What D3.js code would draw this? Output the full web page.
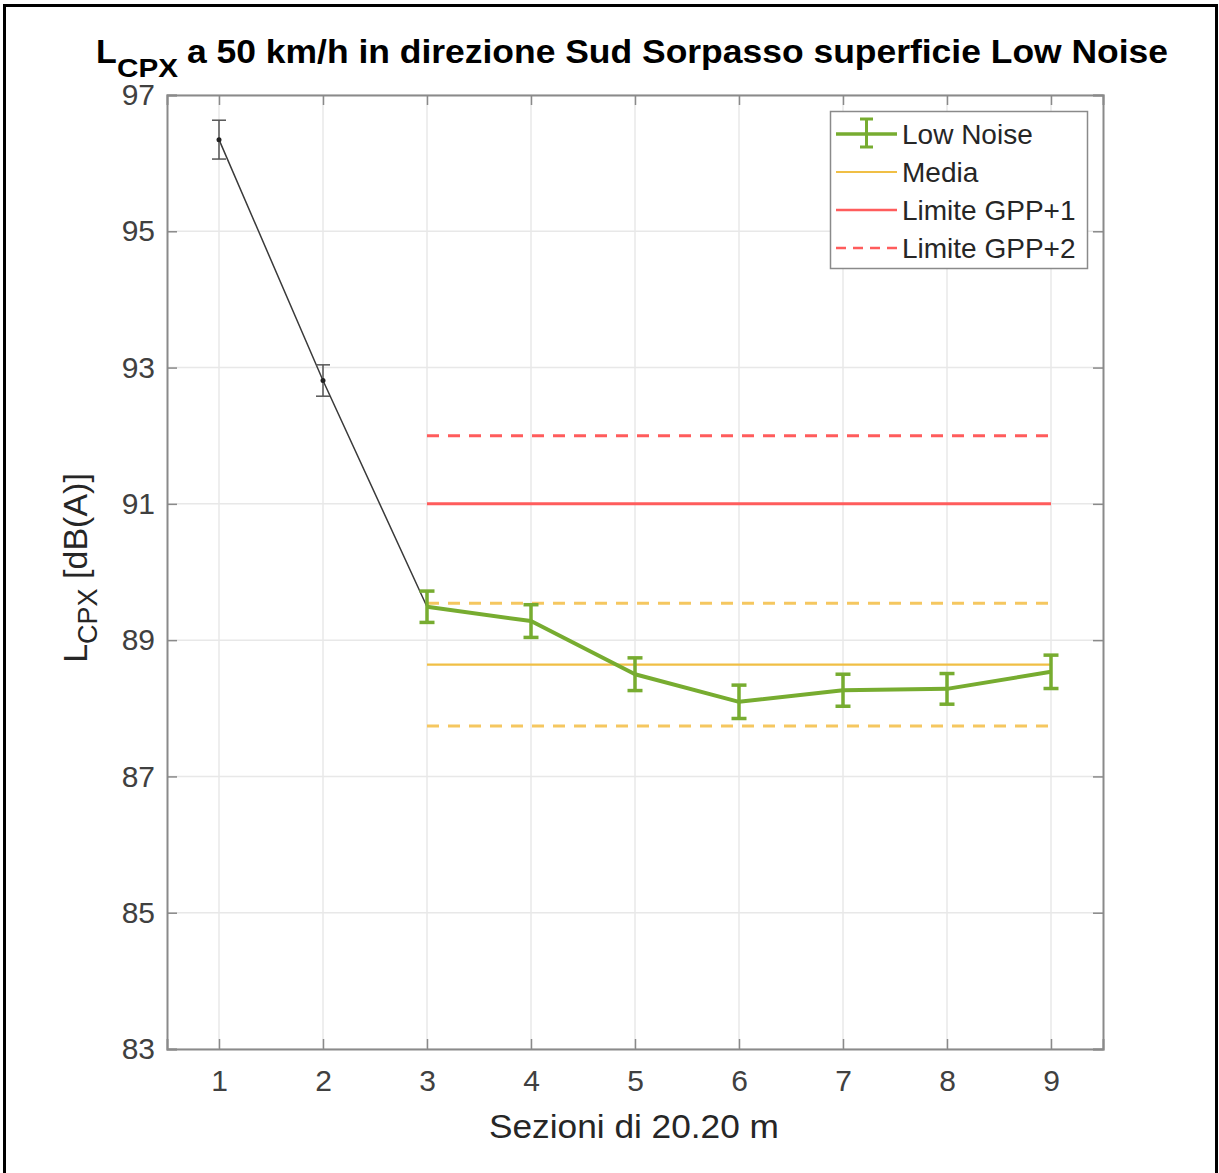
<!DOCTYPE html>
<html><head><meta charset="utf-8">
<script src="https://cdn.jsdelivr.net/npm/d3@7"></script>
<style>body{margin:0;background:#fff;}svg{display:block;font-family:"Liberation Sans",Arial,sans-serif;}</style>
</head><body>
<svg id="c" width="1219" height="1173"></svg>
<script>
// Data
const xTicks = [1,2,3,4,5,6,7,8,9];
const yTicks = [83,85,87,89,91,93,95,97];
const startSections = [1,2,3];
const startValues = [96.345, 92.81, 89.49];
const startErr = [0.285, 0.23, 0.23];
const lnSections = [3,4,5,6,7,8,9];
const lnValues = [89.49, 89.28, 88.50, 88.095, 88.265, 88.285, 88.535];
const lnErr = [0.23, 0.24, 0.24, 0.245, 0.235, 0.225, 0.245];
const mediaValue = 88.64;
const mediaBand = 0.9;
const limit1 = 91;
const limit2 = 92;
const refRange = [3, 9];
const legendLabels = ["Low Noise","Media","Limite GPP+1","Limite GPP+2"];

const svg = d3.select("#c");
// outer frame
svg.append("rect").attr("x",4.5).attr("y",5.5).attr("width",1212).attr("height",1180)
  .attr("fill","none").attr("stroke","#000").attr("stroke-width",3);

const L=167, R=1103, T=95, B=1049;
const x = d3.scaleLinear().domain([0.5,9.5]).range([L,R]);
const y = d3.scaleLinear().domain([83,97]).range([B,T]);

const green="#77ac30", yellow="#f0bf45", yellowD="#f5c760", red="#ff5c5c";

const g = svg.append("g");
// grid
g.selectAll(".gx").data(xTicks).join("line").attr("x1",d=>x(d)).attr("x2",d=>x(d)).attr("y1",T).attr("y2",B)
  .attr("stroke","#e8e8e8").attr("stroke-width",1.5);
g.selectAll(".gy").data(yTicks).join("line").attr("y1",d=>y(d)).attr("y2",d=>y(d)).attr("x1",L).attr("x2",R)
  .attr("stroke","#e8e8e8").attr("stroke-width",1.5);

// axes
const ax = svg.append("g").attr("transform",`translate(0,${B})`)
  .call(d3.axisBottom(x).tickValues(xTicks).tickSize(-10).tickPadding(21).tickFormat(d3.format("d")));
const ay = svg.append("g").attr("transform",`translate(${L},0)`)
  .call(d3.axisLeft(y).tickValues(yTicks).tickSize(-10).tickPadding(12).tickFormat(d3.format("d")));
const axT = svg.append("g").attr("transform",`translate(0,${T})`)
  .call(d3.axisTop(x).tickValues(xTicks).tickSize(-10).tickFormat(""));
const ayR = svg.append("g").attr("transform",`translate(${R},0)`)
  .call(d3.axisRight(y).tickValues(yTicks).tickSize(-10).tickFormat(""));
[ax,ay,axT,ayR].forEach(a=>{
  a.select(".domain").attr("stroke","#8a8a8a").attr("stroke-width",2);
  a.selectAll(".tick line").attr("stroke","#8a8a8a").attr("stroke-width",1.5);
  a.selectAll(".tick text").attr("fill","#404040").attr("font-size",30).attr("font-family","Liberation Sans, Arial, sans-serif");
});

// reference lines
const pr = g.append("g");
function hline(v,color,w,dash){
  pr.append("line").attr("x1",x(refRange[0])).attr("x2",x(refRange[1])).attr("y1",y(v)).attr("y2",y(v))
    .attr("stroke",color).attr("stroke-width",w).attr("stroke-dasharray",dash||null);
}
hline(limit2, red, 3, "12,9");
hline(limit1, red, 3);
hline(mediaValue+mediaBand, yellowD, 3, "12,9");
hline(mediaValue-mediaBand, yellowD, 3, "12,9");
hline(mediaValue, yellow, 2.2);

// start series (black)
const line = d3.line().x(d=>x(d[0])).y(d=>y(d[1]));
const startPts = startSections.map((s,i)=>[s,startValues[i],startErr[i]]);
g.append("path").attr("d",line(startPts)).attr("fill","none").attr("stroke","#3a3a3a").attr("stroke-width",1.5);
startPts.slice(0,2).forEach(p=>{
  const cx=x(p[0]);
  g.append("line").attr("x1",cx).attr("x2",cx).attr("y1",y(p[1]+p[2])).attr("y2",y(p[1]-p[2])).attr("stroke","#555").attr("stroke-width",1.5);
  [p[1]+p[2],p[1]-p[2]].forEach(v=>g.append("line").attr("x1",cx-7).attr("x2",cx+7).attr("y1",y(v)).attr("y2",y(v)).attr("stroke","#555").attr("stroke-width",1.5));
  g.append("circle").attr("cx",cx).attr("cy",y(p[1])).attr("r",2.5).attr("fill","#222");
});

// low noise series
const lnPts = lnSections.map((s,i)=>[s,lnValues[i],lnErr[i]]);
g.append("path").attr("d",line(lnPts)).attr("fill","none").attr("stroke",green).attr("stroke-width",4).attr("stroke-linejoin","round");
lnPts.forEach(p=>{
  const cx=x(p[0]);
  g.append("line").attr("x1",cx).attr("x2",cx).attr("y1",y(p[1]+p[2])).attr("y2",y(p[1]-p[2])).attr("stroke",green).attr("stroke-width",3.5);
  [p[1]+p[2],p[1]-p[2]].forEach(v=>g.append("line").attr("x1",cx-7.5).attr("x2",cx+7.5).attr("y1",y(v)).attr("y2",y(v)).attr("stroke",green).attr("stroke-width",3.5));
});

// legend
const lg = svg.append("g");
lg.append("rect").attr("x",830.5).attr("y",111.5).attr("width",257).attr("height",157).attr("fill","#fff").attr("stroke","#8a8a8a").attr("stroke-width",1.5);
const rowY = [134,172,210,248];
legendLabels.forEach((t,i)=>{
  lg.append("text").attr("x",902).attr("y",rowY[i]+10).attr("font-size",28).attr("fill","#262626").text(t);
});
// samples
lg.append("line").attr("x1",836).attr("x2",897).attr("y1",rowY[0]).attr("y2",rowY[0]).attr("stroke",green).attr("stroke-width",3.5);
lg.append("line").attr("x1",866.5).attr("x2",866.5).attr("y1",rowY[0]-15).attr("y2",rowY[0]+13).attr("stroke",green).attr("stroke-width",3);
[rowY[0]-15,rowY[0]+13].forEach(v=>lg.append("line").attr("x1",860).attr("x2",873).attr("y1",v).attr("y2",v).attr("stroke",green).attr("stroke-width",3));
lg.append("line").attr("x1",836).attr("x2",897).attr("y1",rowY[1]).attr("y2",rowY[1]).attr("stroke",yellow).attr("stroke-width",2);
lg.append("line").attr("x1",836).attr("x2",897).attr("y1",rowY[2]).attr("y2",rowY[2]).attr("stroke",red).attr("stroke-width",2.5);
lg.append("line").attr("x1",836).attr("x2",897).attr("y1",rowY[3]).attr("y2",rowY[3]).attr("stroke",red).attr("stroke-width",2.5).attr("stroke-dasharray","10,7");

// title
const tt = svg.append("text").attr("y",63).attr("font-size",34).attr("font-weight","bold").attr("fill","#000");
tt.append("tspan").attr("x",96).text("L");
tt.append("tspan").attr("x",117).attr("font-size",26).attr("dy",14).attr("textLength",61).attr("lengthAdjust","spacingAndGlyphs").text("CPX");
tt.append("tspan").attr("x",187).attr("dy",-14).attr("textLength",981).attr("lengthAdjust","spacingAndGlyphs").text("a 50 km/h in direzione Sud Sorpasso superficie Low Noise");

// x label
svg.append("text").attr("x",634).attr("y",1138).attr("text-anchor","middle").attr("font-size",34)
  .attr("textLength",290).attr("lengthAdjust","spacingAndGlyphs").attr("fill","#262626").text("Sezioni di 20.20 m");

// y label
const yl = svg.append("text").attr("transform",`translate(87,${568}) rotate(-90)`).attr("text-anchor","middle").attr("font-size",34).attr("fill","#262626");
yl.append("tspan").text("L");
yl.append("tspan").attr("font-size",27).attr("dy",10).text("CPX");
yl.append("tspan").attr("dy",-10).text(" [dB(A)]");
</script>
</body></html>
